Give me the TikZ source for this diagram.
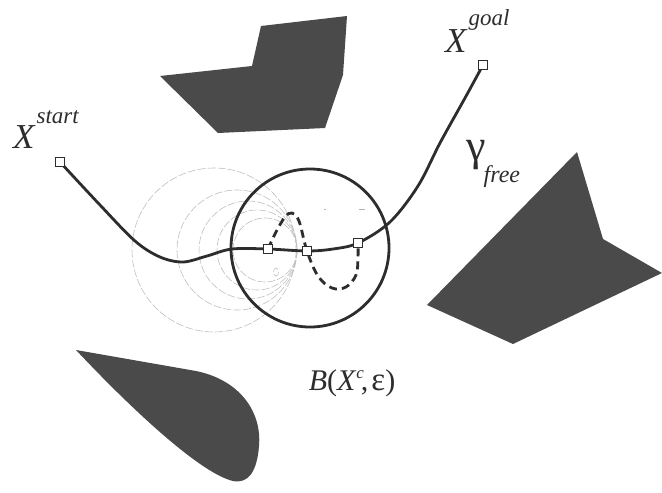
\documentclass[tikz,border=0pt]{standalone}
\usepackage{fontspec}
\setmainfont{Liberation Serif}
\usepackage{tikz}
\usetikzlibrary{arrows.meta}

\definecolor{obstgray}{RGB}{74,74,74}
\definecolor{inkgray}{RGB}{45,45,45}

\tikzset{
    obstacle/.style={fill=obstgray, draw=none},
    waypoint/.style={draw=inkgray, fill=white, line width=0.6pt, minimum size=9pt, inner sep=0pt},
    freepath/.style={draw=inkgray, line width=2.8pt, line join=round},
    altpath/.style={draw=inkgray, line width=2.8pt, dash pattern=on 8pt off 5pt},
    ghost/.style={draw=gray!50, line width=0.6pt, dash pattern=on 8pt off 2pt},
    biglabel/.style={font=\fontsize{35}{38}\selectfont\itshape, text=inkgray, inner sep=0pt}
}

\begin{document}
\begin{tikzpicture}[x=1pt, y=-1pt]
    \useasboundingbox (0,0) rectangle (662,493);

    % Obstacles
    \fill[obstacle] (160,76) -- (252,66) -- (261,26) -- (347,16) -- (343,75) -- (325,128) -- (218,133) -- cycle;
    \fill[obstacle] (577,152) -- (603,239) -- (662,273) -- (513,344) -- (427,305) -- cycle;
    \fill[obstacle] (76,350) -- (196,371)
        .. controls (240,380) and (262,412) .. (259,446)
        .. controls (257,472) and (248,484) .. (233,481)
        .. controls (203,474) and (140,418) .. (76,350) -- cycle;

    % Swept balls along the path
    \draw[ghost] (214,250) circle (82);
    \draw[ghost] (237,250) circle (60);
    \draw[ghost] (248,250) circle (49);
    \draw[ghost] (257,250) circle (40);
    \draw[ghost] (265,250) circle (32);
    \draw[ghost] (276,272) ellipse (2.5 and 4);
    \draw[gray!60, line width=0.6pt] (324,209) -- (326,209);
    \draw[gray!60, line width=0.8pt] (359,209) -- (365,209);

    % Ball around the configuration
    \draw[inkgray, line width=2.8pt] (310,248) circle (79);

    % Waypoints
    \coordinate (p1) at (100,205);
    \coordinate (p2) at (135,241);
    \coordinate (p3) at (160,257);
    \coordinate (p4) at (183,262);
    \coordinate (p5) at (207,256);
    \coordinate (p6) at (232,249);
    \coordinate (p7) at (333,249);
    \coordinate (p8) at (390,222);
    \coordinate (p9) at (418,186);
    \coordinate (p10) at (440,143);
    \coordinate (p11) at (465,98);

    \node[waypoint] (start) at (60,162) {};
    \node[waypoint] (qa) at (268,249) {};
    \node[waypoint] (qb) at (307,251) {};
    \node[waypoint] (qc) at (358,243) {};
    \node[waypoint] (goal) at (483,65) {};

    % Free path
    \draw[freepath] plot[smooth, tension=0.55] coordinates {(start.center) (p1) (p2) (p3) (p4) (p5) (p6) (qa.center) (qb.center) (p7) (qc.center) (p8) (p9) (p10) (p11) (goal.center)};

    % Local deformation
    \coordinate (d1) at (276,232);
    \coordinate (d2) at (285,217);
    \coordinate (d3) at (292,213);
    \coordinate (d4) at (299,221);
    \coordinate (d5) at (318,276);
    \coordinate (d6) at (332,288);
    \coordinate (d7) at (346,287);
    \coordinate (d8) at (356,275);
    \coordinate (d9) at (358,258);
    \draw[altpath] plot[smooth, tension=0.6] coordinates {(qa.center) (d1) (d2) (d3) (d4) (qb.center) (d5) (d6) (d7) (d8) (d9) (qc.center)};

    % redraw waypoints on top
    \node[waypoint] at (start) {};
    \node[waypoint] at (qa) {};
    \node[waypoint] at (qb) {};
    \node[waypoint] at (qc) {};
    \node[waypoint] at (goal) {};

    % Labels
    \node[biglabel, anchor=base west] (lstart) at (13,148) {X\raisebox{25pt}{\hspace{2pt}\fontsize{23}{25}\selectfont start}};
    \node[biglabel, anchor=base west] (lgoal) at (445,52) {X\raisebox{27pt}{\hspace{2pt}\fontsize{23}{25}\selectfont goal}};
    \node[biglabel, anchor=base west, font=\fontsize{44}{46}\selectfont] (lfree) at (466,160) {γ\raisebox{-22pt}{\hspace{-2pt}\fontsize{24}{26}\selectfont\itshape free}};
    \node[biglabel, anchor=base, font=\fontsize{30}{33}\selectfont] (lball) at (352,390) {\textit{B}(\textit{X}\raisebox{12pt}{\fontsize{17}{19}\selectfont\itshape c}\hspace{-3pt},\hspace{3pt}{\fontsize{33}{35}\selectfont ε})};
\end{tikzpicture}
\end{document}
